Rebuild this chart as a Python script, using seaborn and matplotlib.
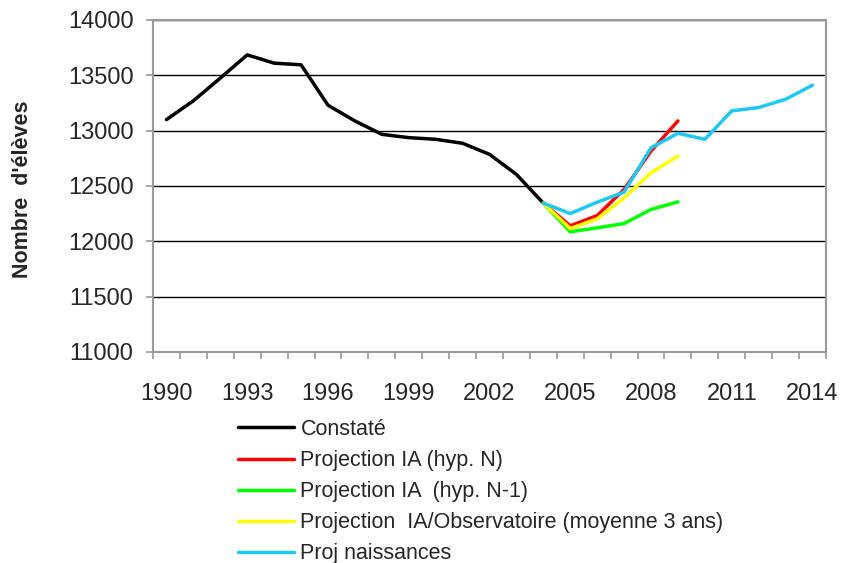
import numpy as np
import pandas as pd
import seaborn as sns
import matplotlib.pyplot as plt
from matplotlib.lines import Line2D
from matplotlib.ticker import MultipleLocator, FixedLocator

years = list(range(1990, 2015))
nan = np.nan

# Constaté 1990-2004
constate = [13100, 13270, 13475, 13685, 13610, 13595, 13230, 13088, 12967, 12937,
            12922, 12886, 12786, 12605, 12345] + [nan] * 10
# Projection IA (hyp. N) 2004-2009
proj_n = [nan] * 14 + [12345, 12140, 12233, 12469, 12816, 13088] + [nan] * 5
# Projection IA (hyp. N-1)
proj_n1 = [nan] * 14 + [12345, 12086, 12122, 12161, 12288, 12357] + [nan] * 5
# Projection IA/Observatoire (moyenne 3 ans)
proj_obs = [nan] * 14 + [12345, 12115, 12203, 12393, 12620, 12771] + [nan] * 5
# Proj naissances 2004-2014
proj_nais = [nan] * 14 + [12345, 12251, 12354, 12445, 12846, 12976, 12922, 13179,
                          13209, 13284, 13411]

labels = ["Constaté", "Projection IA (hyp. N)", "Projection IA  (hyp. N-1)",
          "Projection  IA/Observatoire (moyenne 3 ans)", "Proj naissances"]
colors = ["#000000", "#FF0000", "#00FF00", "#FFFF00", "#1EC8F5"]

frames = []
for lab, vals in zip(labels, [constate, proj_n, proj_n1, proj_obs, proj_nais]):
    frames.append(pd.DataFrame({"annee": years, "eleves": vals, "serie": lab}))
df = pd.concat(frames).dropna()

sns.set_style("white")
plt.rcParams['font.family'] = ['Liberation Sans', 'DejaVu Sans']

fig = plt.figure(figsize=(8.5, 5.63), dpi=100)
ax = fig.add_axes([153 / 850, 1 - 352 / 563, (826 - 153) / 850, (352 - 20) / 563])

sns.lineplot(data=df, x="annee", y="eleves", hue="serie", hue_order=labels,
             palette=dict(zip(labels, colors)), linewidth=2.5, ax=ax, legend=False)

ax.set_xlim(1989.5, 2014.5)
ax.set_ylim(11000, 14000)
ax.yaxis.set_major_locator(MultipleLocator(500))
ax.xaxis.set_major_locator(FixedLocator(list(range(1990, 2015, 3))))
ax.xaxis.set_minor_locator(FixedLocator(np.arange(1989.5, 2015, 1)))
ax.grid(axis="y", color="black", linewidth=1)
ax.set_axisbelow(True)
for s in ax.spines.values():
    s.set_visible(True)
    s.set_color("#999999")
    s.set_linewidth(1.5)

ax.tick_params(axis="x", which="major", length=0, pad=22, labelsize=17)
ax.tick_params(axis="x", which="minor", bottom=True, length=5, width=1.2, color="#999999", direction="out")
ax.tick_params(axis="y", left=True, length=5, width=1.2, color="#999999", pad=9, labelsize=17)
ax.set_xlabel("")
ax.set_ylabel("")
fig.text(23 / 850, 1 - 189 / 563, "Nombre  d'élèves", rotation=90, ha="center", va="center",
         fontsize=15.5, fontweight="bold")

handles = [Line2D([], [], color=c, linewidth=2.5) for c in colors]
fig.legend(handles, labels, loc="upper left", bbox_to_anchor=(238 / 850, 1 - 419 / 563),
           frameon=False, fontsize=15.5, handlelength=2.6, handletextpad=0.3,
           labelspacing=0.47, borderpad=0, borderaxespad=0)

fig.savefig("out.png", dpi=100)
